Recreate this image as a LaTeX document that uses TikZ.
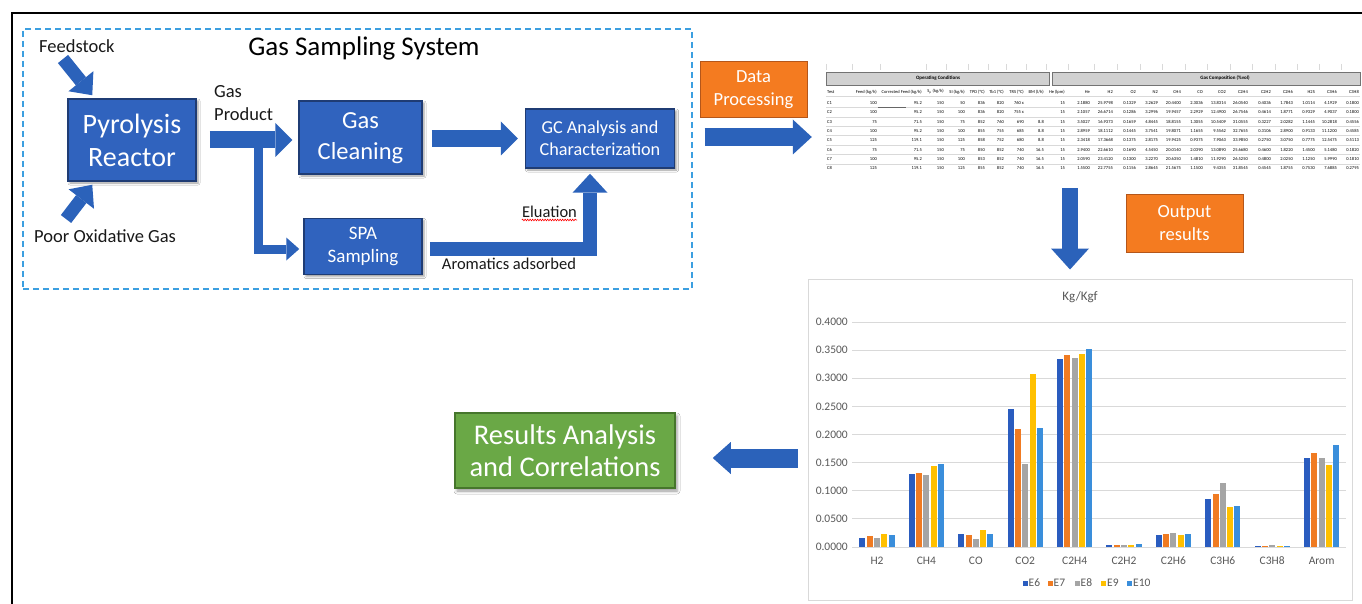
\documentclass[tikz,border=0pt]{standalone}
\usepackage{fontspec}
\setmainfont{Carlito}
\usetikzlibrary{arrows.meta, positioning, shadows.blur, decorations.pathmorphing}

\definecolor{boxblue}{HTML}{3063BE}
\definecolor{boxedge}{HTML}{1F3C74}
\definecolor{arrowblue}{HTML}{2B62BA}
\definecolor{noteorange}{HTML}{F47B20}
\definecolor{noteedge}{HTML}{B4561A}
\definecolor{resgreen}{HTML}{6AA846}
\definecolor{resedge}{HTML}{46762C}
\definecolor{dashblue}{HTML}{3C9FE0}
\definecolor{axisgray}{HTML}{595959}
\definecolor{gridgray}{HTML}{D9D9D9}
\definecolor{bar1}{HTML}{2A5CBF}
\definecolor{bar2}{HTML}{F07B22}
\definecolor{bar3}{HTML}{A5A5A5}
\definecolor{bar4}{HTML}{FFC000}
\definecolor{bar5}{HTML}{3A8EDB}

% column right edges of the data table
\newcommand{\opcols}{{877,922,944,965,985,1004,1024,1044,1065}}
\newcommand{\gascols}{{1090,1113,1136,1158,1181,1203,1226,1248,1271,1293,1315,1337,1359}}

\begin{document}
\begin{tikzpicture}[x=1pt, y=-1pt,
  procbox/.style={draw=boxedge, line width=1.5pt, fill=boxblue, text=white, align=center, inner sep=0pt, blur shadow={shadow xshift=2pt, shadow yshift=-2pt, shadow blur radius=2pt}},
  notebox/.style={draw=noteedge, line width=1pt, fill=noteorange, text=white, align=center, inner sep=0pt, font=\fontsize{18.5}{23}\selectfont},
  resultbox/.style={draw=resedge, line width=1.5pt, fill=resgreen, text=white, align=center, inner sep=0pt, font=\fontsize{28.5}{32}\selectfont, blur shadow={shadow xshift=2pt, shadow yshift=-3pt, shadow blur radius=3pt}},
  groupbox/.style={draw=dashblue, line width=1.3pt, dash pattern=on 6pt off 4pt, inner sep=0pt},
  txt/.style={font=\fontsize{18.5}{23}\selectfont, align=left, inner sep=0pt, text=black!90},
  smalltxt/.style={font=\fontsize{16.5}{20}\selectfont, inner sep=0pt, text=black!90},
  bigflow/.style={draw=arrowblue, line width=17pt, -{Triangle[length=17pt, width=34pt, line width=0pt]}},
  midflow/.style={draw=arrowblue, line width=14pt, -{Triangle[length=19pt, width=35pt, line width=0pt]}},
  thinflow/.style={draw=arrowblue, line width=9pt, -{Triangle[length=13pt, width=23pt, line width=0pt]}},
  diagflow/.style={draw=arrowblue, line width=13pt, -{Triangle[length=18pt, width=32pt, line width=0pt]}},
  spellmark/.style={draw=red, line width=0.6pt, decorate, decoration={snake, amplitude=0.8pt, segment length=2.5pt}},
  frameline/.style={draw=black, line width=2pt},
  chartbox/.style={draw=gridgray, line width=1pt, fill=white, inner sep=0pt},
  axistxt/.style={font=\fontsize{11.5}{13}\selectfont, text=axisgray, inner sep=0pt},
  tabtxt/.style={font=\fontsize{4.5}{5}\selectfont, inner sep=0pt, text=black},
  tabline/.style={draw=gridgray, line width=0.5pt},
  tabhead/.style={fill=black!18, draw=black!55, line width=0.6pt}
]
\useasboundingbox (0,0) rectangle (1362,604);
\fill[white] (0,0) rectangle (1362,604);

% outer frame
\draw[frameline] (12,604) -- (12,13) -- (1362,13);

% Gas sampling system
\node[groupbox, minimum width=669pt, minimum height=260pt] (gss) at (357.5,159) {};
\node[font=\fontsize{27}{30}\selectfont, inner sep=0pt] (gsstitle) at (364,48) {Gas Sampling System};

\node[procbox, minimum width=128pt, minimum height=82pt, font=\fontsize{28}{33}\selectfont] (reactor) at (132,140) {Pyrolysis\\Reactor};
\node[procbox, minimum width=123pt, minimum height=73pt, font=\fontsize{24.5}{31}\selectfont, text depth=3pt] (clean) at (360.5,137.5) {Gas\\Cleaning};
\node[procbox, minimum width=149pt, minimum height=59pt, font=\fontsize{18.2}{22}\selectfont, right=102pt of clean, yshift=-1pt] (gc) {GC Analysis and\\Characterization};
\node[procbox, minimum width=118pt, minimum height=56pt, font=\fontsize{19}{23}\selectfont, below=43pt of clean, xshift=2.5pt] (spa) {SPA\\Sampling};

% inputs
\node[txt, anchor=west] (feedtxt) at (39,46) {Feedstock};
\node[txt, anchor=west] (oxtxt) at (34,236) {Poor Oxidative Gas};
\coordinate (feedtail) at (63,59);
\coordinate (oxtail) at (66,219);
\draw[diagflow] (feedtail) -- ([xshift=25pt, yshift=3pt]reactor.north west);
\draw[diagflow] (oxtail) -- ([xshift=25pt, yshift=-3pt]reactor.south west);

% gas product
\node[txt, anchor=west] (gastxt) at (214,103.5) {Gas\\Product};
\draw[bigflow, shorten <=13pt, shorten >=6pt] (reactor.east) -- (reactor.east -| clean.west);
\coordinate (branch) at (258.5,148);
\draw[thinflow, shorten >=4pt] (branch) |- ([yshift=-2.5pt]spa.west);
\draw[bigflow, shorten <=9pt, shorten >=7pt] (clean.east |- gc) -- (gc.west);

% aromatics to GC
\coordinate (elucol) at (590,0);
\draw[midflow, shorten <=7pt, shorten >=5pt] ([yshift=-2pt]spa.east) -| (elucol |- gc.south);
\node[smalltxt] (eluation) at (549.5,212) {Eluation};
\draw[spellmark] ([yshift=-2pt]eluation.south west) -- ([yshift=-2pt]eluation.south east);
\node[smalltxt] (aromtxt) at (509,264) {Aromatics adsorbed};

% data processing
\node[notebox, minimum width=107pt, minimum height=56pt] (datanote) at (753.5,90) {Data\\Processing};

% data table
\node[minimum width=531pt, minimum height=108pt, inner sep=0pt] (table) at (1091.5,118) {};
\begin{scope}
  \clip (826,60) rectangle (1362,173);
  \foreach \xx in {826,852,880,926,946,968,988,1006,1026,1046,1068,1094,1117,1140,1162,1185,1207,1230,1252,1275,1297,1319,1341}
    \draw[tabline] (\xx,64) -- (\xx,70);
  \filldraw[tabhead] (826,72) rectangle (1049,85);
  \filldraw[tabhead] (1052,72) rectangle (1360,85);
  \node[tabtxt, font=\fontsize{5}{5}\selectfont\bfseries] (ophead) at (938,78.5) {Operating Conditions};
  \node[tabtxt, font=\fontsize{5}{5}\selectfont\bfseries] (gashead) at (1225,78.5) {Gas Composition (\%vol)};
  \node[tabtxt, anchor=west] (testhead) at (827,92) {Test};
  \foreach \h [count=\c] in {Feed (kg/h), Corrected Feed (kg/h), S\textsubscript{p} (kg/h), SI (kg/h), TPD (°C), Tb1 (°C), TRS (°C), BM (l/h), He (lpm)} {
    \pgfmathsetmacro\xx{\opcols[\c-1]}
    \node[tabtxt, anchor=east] (oph\c) at (\xx,92) {\h};
  }
  \foreach \h [count=\c] in {He, H2, O2, N2, CH4, CO, CO2, C2H4, C2H2, C2H6, H2S, C3H6, C3H8} {
    \pgfmathsetmacro\xx{\gascols[\c-1]}
    \node[tabtxt, anchor=east] (gash\c) at (\xx,92) {\h};
  }
  \draw[tabline] (826,96.5) -- (1360,96.5);
  \foreach \r/\test/\op/\gas in {
    1/C1/{100,95.2,150,50,836,820,760 x,\phantom{0},15}/{2.1880,25.9798,0.1329,3.2629,20.4400,2.3036,13.8314,26.0540,0.4036,1.7843,1.0114,4.1929,0.1800},
    2/C2/{100,95.2,150,100,836,820,755 x,\phantom{0},15}/{2.1057,26.6714,0.1286,3.2996,19.9457,2.2929,12.4900,26.7546,0.4614,1.8771,0.9329,4.9037,0.1800},
    3/C3/{75,71.5,150,75,852,760,690,8.8,15}/{3.5027,16.9373,0.1659,4.8445,18.8155,1.3055,10.5409,31.0555,0.3227,2.0282,1.1445,10.2818,0.4556},
    4/C4/{100,95.2,150,100,855,755,685,8.8,15}/{2.8959,18.1112,0.1445,3.7541,19.8071,1.1655,9.5562,32.7655,0.3106,2.8900,0.9133,11.1200,0.4585},
    5/C5/{125,119.1,150,125,858,752,680,8.8,15}/{2.3418,17.3668,0.1375,2.8175,19.9425,0.9375,7.9063,33.9850,0.2750,3.0750,0.7775,12.5475,0.5113},
    6/C6/{75,71.5,150,75,850,852,740,16.5,15}/{2.9400,22.6610,0.1690,4.5450,20.0140,2.0390,13.0890,25.6680,0.4600,1.8220,1.4500,5.1480,0.1820},
    7/C7/{100,95.2,150,100,853,852,740,16.5,15}/{2.0590,23.4120,0.1300,3.2270,20.6350,1.4810,11.9290,26.5250,0.4800,2.0250,1.1250,5.9990,0.1810},
    8/C8/{125,119.1,150,125,855,852,740,16.5,15}/{1.5500,22.7755,0.1156,2.8645,21.5675,1.1500,9.4355,31.8545,0.4545,1.8755,0.7530,7.6885,0.2795}} {
    \pgfmathsetmacro\yy{103+(\r-1)*9.35}
    \node[tabtxt, anchor=west] (test\r) at (827,\yy) {\test};
    \foreach \v [count=\c] in \op {
      \pgfmathsetmacro\xx{\opcols[\c-1]}
      \node[tabtxt, anchor=east] (op\r-\c) at (\xx,\yy) {\v};
    }
    \foreach \v [count=\c] in \gas {
      \pgfmathsetmacro\xx{\gascols[\c-1]}
      \node[tabtxt, anchor=east] (gas\r-\c) at (\xx,\yy) {\v};
    }
    \draw[tabline] (826,{\yy+4.7}) -- (1360,{\yy+4.7});
  }
  \draw[black!60, line width=0.8pt] (878,107.5) -- (906,107.5);
\end{scope}
\coordinate (dprow) at (0,137);
\draw[bigflow, line width=18pt, -{Triangle[length=19pt, width=35pt, line width=0pt]}, shorten <=12pt, shorten >=14pt] (gss.east |- dprow) -- (table.west |- dprow);

% chart
\node[chartbox, minimum width=544pt, minimum height=321pt] (chart) at (1080,439.5) {};
\node[axistxt, font=\fontsize{13}{15}\selectfont] (charttitle) at (1080,297) {Kg/Kgf};
\foreach \k/\lab in {0/0.0000,1/0.0500,2/0.1000,3/0.1500,4/0.2000,5/0.2500,6/0.3000,7/0.3500,8/0.4000} {
  \draw[gridgray, line width=0.8pt] (852,{547-\k*28.125}) -- (1346,{547-\k*28.125});
  \node[axistxt, anchor=east] (tick\k) at (848,{547-\k*28.125}) {\lab};
}
\foreach \cat/\vals [count=\i] in {
  H2/{0.0166,0.0190,0.0155,0.0226,0.0220},
  CH4/{0.1290,0.1320,0.1278,0.1444,0.1480},
  CO/{0.0226,0.0210,0.0150,0.0297,0.0238},
  CO2/{0.2455,0.2104,0.1474,0.3067,0.2116},
  C2H4/{0.3340,0.3420,0.3358,0.3440,0.3520},
  C2H2/{0.0040,0.0040,0.0030,0.0040,0.0045},
  C2H6/{0.0210,0.0230,0.0256,0.0208,0.0226},
  C3H6/{0.0860,0.0945,0.1135,0.0707,0.0737},
  C3H8/{0.0020,0.0015,0.0030,0.0010,0.0015},
  Arom/{0.1590,0.1680,0.1580,0.1450,0.1807}} {
  \foreach \v [count=\j] in \vals
    \fill[bar\j] ({877+(\i-1)*49.4+(\j-3)*7.3-3},547) rectangle ++(6,{-\v*562.5});
  \node[axistxt] (cat\i) at ({877+(\i-1)*49.4},561) {\cat};
}
\foreach \lab/\xx [count=\j] in {E6/1025,E7/1050,E8/1077,E9/1103.5,E10/1129.5} {
  \fill[bar\j] (\xx-2.5,580.5) rectangle ++(5,5);
  \node[axistxt, anchor=west] (leg\j) at (\xx+3.5,583) {\lab};
}

% output and results
\node[notebox, minimum width=117pt, minimum height=57pt] (outnote) at (1184.5,223.5) {Output\\results};
\coordinate (outcol) at (1070,0);
\draw[bigflow, line width=16pt, -{Triangle[length=21pt, width=38pt, line width=0pt]}, shorten <=16pt, shorten >=9pt] (table.south -| outcol) -- (chart.north -| outcol);

\node[resultbox, minimum width=220pt, minimum height=75pt] (results) at (565,450.5) {Results Analysis\\and Correlations};
\coordinate (resrow) at (0,458);
\draw[bigflow, line width=19pt, -{Triangle[length=18pt, width=32pt, line width=0pt]}, shorten <=10pt, shorten >=37pt] (chart.west |- resrow) -- (results.east |- resrow);

\end{tikzpicture}
\end{document}
